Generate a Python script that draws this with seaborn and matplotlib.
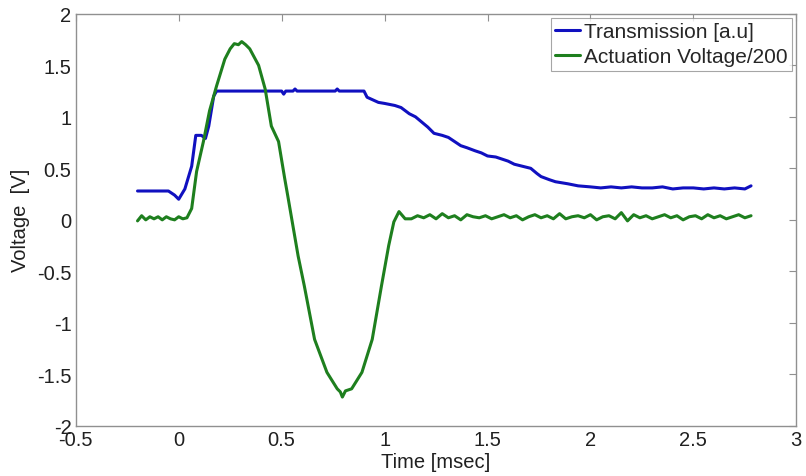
import numpy as np
import pandas as pd
import matplotlib
matplotlib.use("Agg")
import matplotlib.pyplot as plt
import seaborn as sns

# ---- data ----
trans_t = [-0.20, -0.05, -0.02, 0.00, 0.03, 0.063, 0.083, 0.11, 0.13, 0.146, 0.17, 0.184,
           0.50, 0.51, 0.52, 0.555, 0.565, 0.575, 0.76, 0.77, 0.78, 0.90, 0.915, 0.937, 0.97,
           1.00, 1.05, 1.08, 1.12, 1.15, 1.18, 1.21, 1.24, 1.28, 1.31, 1.34, 1.37, 1.40,
           1.44, 1.47, 1.50, 1.54, 1.57, 1.60, 1.63, 1.67, 1.71, 1.74, 1.76, 1.80, 1.83,
           1.86, 1.89, 1.94, 2.00, 2.05, 2.10, 2.15, 2.20, 2.25, 2.30, 2.35, 2.40, 2.45,
           2.50, 2.55, 2.60, 2.65, 2.70, 2.75, 2.78]
trans_v = [0.28, 0.28, 0.24, 0.20, 0.30, 0.52, 0.82, 0.82, 0.79, 0.91, 1.20, 1.25,
           1.25, 1.22, 1.25, 1.25, 1.27, 1.25, 1.25, 1.27, 1.25, 1.25, 1.19, 1.17, 1.14,
           1.13, 1.11, 1.09, 1.03, 1.00, 0.95, 0.90, 0.84, 0.82, 0.80, 0.76, 0.72, 0.70,
           0.67, 0.65, 0.62, 0.61, 0.59, 0.57, 0.54, 0.52, 0.50, 0.45, 0.42, 0.39, 0.37,
           0.36, 0.35, 0.33, 0.32, 0.31, 0.32, 0.31, 0.32, 0.31, 0.31, 0.32, 0.30, 0.31,
           0.31, 0.30, 0.31, 0.30, 0.31, 0.30, 0.33]

act_t = [-0.20, -0.18, -0.16, -0.14, -0.12, -0.10, -0.08, -0.06, -0.04, -0.02, 0.00, 0.02, 0.04,
         0.063, 0.087, 0.12, 0.15, 0.184, 0.224, 0.25, 0.27, 0.29, 0.306, 0.325, 0.345, 0.388,
         0.42, 0.45, 0.485, 0.515, 0.53, 0.58, 0.61, 0.66, 0.72, 0.77, 0.785, 0.795, 0.81,
         0.84, 0.89, 0.94, 0.985, 1.02, 1.045, 1.07, 1.10,
         1.13, 1.16, 1.19, 1.22, 1.25, 1.28, 1.31, 1.34, 1.37, 1.40, 1.43, 1.46, 1.49,
         1.52, 1.55, 1.58, 1.61, 1.64, 1.67, 1.70, 1.73, 1.76, 1.79, 1.82, 1.85, 1.88,
         1.91, 1.94, 1.97, 2.00, 2.03, 2.06, 2.09, 2.12, 2.15, 2.18, 2.21, 2.24, 2.27,
         2.30, 2.33, 2.36, 2.39, 2.42, 2.45, 2.48, 2.51, 2.54, 2.57, 2.60, 2.63, 2.66,
         2.69, 2.72, 2.75, 2.78]
act_v = [-0.01, 0.04, 0.00, 0.03, 0.01, 0.03, 0.00, 0.03, 0.01, 0.00, 0.03, 0.01, 0.02,
         0.11, 0.47, 0.76, 1.06, 1.30, 1.56, 1.66, 1.71, 1.70, 1.73, 1.70, 1.66, 1.50,
         1.27, 0.91, 0.76, 0.40, 0.23, -0.35, -0.64, -1.16, -1.48, -1.64, -1.67, -1.72, -1.66,
         -1.64, -1.48, -1.16, -0.64, -0.25, -0.02, 0.08, 0.01,
         0.01, 0.04, 0.02, 0.05, 0.01, 0.06, 0.02, 0.04, 0.00, 0.05, 0.03, 0.02, 0.04,
         0.01, 0.03, 0.05, 0.02, 0.04, 0.00, 0.03, 0.05, 0.02, 0.04, 0.01, 0.06, 0.01,
         0.03, 0.04, 0.02, 0.05, 0.00, 0.03, 0.04, 0.01, 0.07, -0.01, 0.05, 0.02, 0.04,
         0.01, 0.03, 0.05, 0.02, 0.04, 0.00, 0.03, 0.04, 0.01, 0.05, 0.02, 0.04, 0.01,
         0.03, 0.05, 0.02, 0.04]

labels = ["Transmission [a.u]", "Actuation Voltage/200"]
colors = ["#1010C0", "#1E7F1E"]
x_ticks = [-0.5, 0, 0.5, 1, 1.5, 2, 2.5, 3]
x_ticklabels = ["-0.5", "0", "0.5", "1", "1.5", "2", "2.5", "3"]
y_ticks = [-2, -1.5, -1, -0.5, 0, 0.5, 1, 1.5, 2]
y_ticklabels = ["-2", "-1.5", "-1", "-0.5", "0", "0.5", "1", "1.5", "2"]

sns.set_style("white")
plt.rcParams["font.family"] = ["Liberation Sans", "DejaVu Sans"]

fig = plt.figure(figsize=(8.06, 4.77), dpi=100)
ax = fig.add_axes([0.094, 0.105, 0.894, 0.864])

df1 = pd.DataFrame({"t": trans_t, "v": trans_v})
df2 = pd.DataFrame({"t": act_t, "v": act_v})
sns.lineplot(data=df1, x="t", y="v", ax=ax, color=colors[0], lw=2.2,
             label=labels[0], estimator=None, sort=False)
sns.lineplot(data=df2, x="t", y="v", ax=ax, color=colors[1], lw=2.2,
             label=labels[1], estimator=None, sort=False)

ax.set_xlim(-0.5, 3)
ax.set_ylim(-2, 2)
ax.set_xticks(x_ticks)
ax.set_xticklabels(x_ticklabels)
ax.set_yticks(y_ticks)
ax.set_yticklabels(y_ticklabels)
ax.set_xlabel("Time [msec]", fontsize=14.5, labelpad=2, color="#202020")
ax.set_ylabel("Voltage  [V]", fontsize=14.5, labelpad=5, color="#202020")
ax.tick_params(direction="in", length=5, width=0.8, color="#909090",
               labelsize=14.5, labelcolor="#202020", top=True, right=True, pad=3)
for s in ax.spines.values():
    s.set_color("#909090")
    s.set_linewidth(1.0)

leg = ax.legend(loc="upper right", fontsize=15, frameon=True, fancybox=False,
                edgecolor="#909090", handlelength=1.2, handletextpad=0.2,
                labelspacing=0.3, borderpad=0.2, borderaxespad=0.2)
leg.get_frame().set_linewidth(0.8)

fig.savefig("out.png", dpi=100)
